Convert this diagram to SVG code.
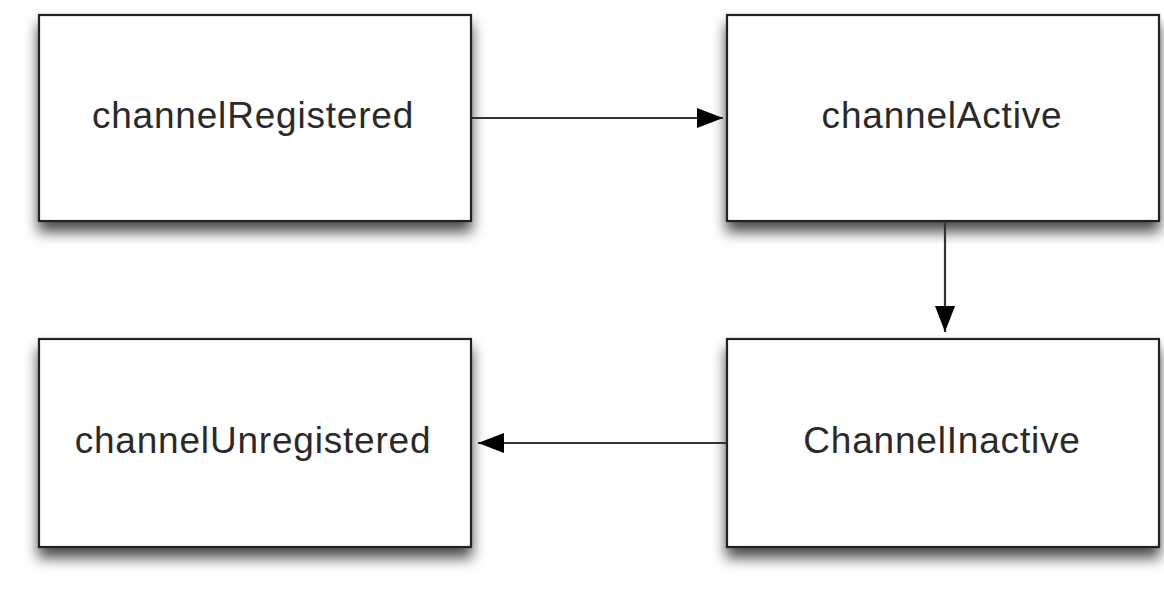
<svg xmlns="http://www.w3.org/2000/svg" width="1164" height="598" viewBox="0 0 1164 598">
<defs>
<filter id="sh" x="-10%" y="-10%" width="120%" height="140%">
<feDropShadow dx="0" dy="10" stdDeviation="7" flood-color="#000" flood-opacity="0.7"/>
</filter>
<marker id="ah" viewBox="0 0 26 20" refX="26" refY="10" markerWidth="26" markerHeight="20" markerUnits="userSpaceOnUse" orient="auto">
<path d="M0,0 L26,10 L0,20 Z" fill="#000"/>
</marker>
<style>
.box{fill:#fff;stroke:#222;stroke-width:2.2;filter:url(#sh)}
.lbl{font-family:"Liberation Sans",Arial,sans-serif;font-size:37px;letter-spacing:0.8px;fill:#2a2a2a;text-anchor:middle}
.edge{stroke:#333;stroke-width:2.2;fill:none;marker-end:url(#ah)}
</style>
</defs>
<rect width="1164" height="598" fill="#fff"/>
<g id="n-channelRegistered">
<rect class="box" x="39" y="15" width="432" height="206"/>
<text class="lbl" x="253" y="128">channelRegistered</text>
</g>
<g id="n-channelActive">
<rect class="box" x="727" y="15" width="432" height="206"/>
<text class="lbl" x="942" y="128">channelActive</text>
</g>
<g id="n-ChannelInactive">
<rect class="box" x="727" y="339" width="432" height="208"/>
<text class="lbl" x="942" y="453">ChannelInactive</text>
</g>
<g id="n-channelUnregistered">
<rect class="box" x="39" y="339" width="432" height="208"/>
<text class="lbl" x="253" y="453">channelUnregistered</text>
</g>
<g id="connectors">
<line class="edge" x1="471" y1="118" x2="723" y2="118"/>
<line class="edge" x1="945" y1="221" x2="945" y2="332"/>
<line class="edge" x1="727" y1="443" x2="478" y2="443"/>
</g>
</svg>
